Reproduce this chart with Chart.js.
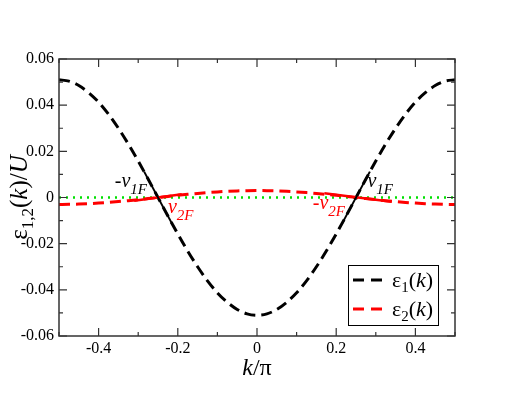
<!DOCTYPE html>
<html lang="en">
<head>
    <meta charset="UTF-8">
    <title>Band dispersion</title>
    <script src="https://cdn.jsdelivr.net/npm/chart.js"></script>
    <style>
        html, body { margin: 0; padding: 0; background: #fff; }
        #wrap { width: 512px; height: 396px; }
    </style>
</head>
<body>
    <div id="wrap"><canvas id="bandChart" width="512" height="396"></canvas></div>

    <script>
        // values
        const kValues = [-0.5, -0.475, -0.45, -0.425, -0.4, -0.375, -0.35, -0.325, -0.3, -0.275, -0.25,
                         -0.225, -0.2, -0.175, -0.15, -0.125, -0.1, -0.075, -0.05, -0.025, 0,
                         0.025, 0.05, 0.075, 0.1, 0.125, 0.15, 0.175, 0.2, 0.225, 0.25,
                         0.275, 0.3, 0.325, 0.35, 0.375, 0.4, 0.425, 0.45, 0.475, 0.5];
        const eps1 = [0.051, 0.0504, 0.0485, 0.0454, 0.0413, 0.0361, 0.0300, 0.0232, 0.0158, 0.0080, 0,
                      -0.0080, -0.0158, -0.0232, -0.0300, -0.0361, -0.0413, -0.0454, -0.0485, -0.0504, -0.051,
                      -0.0504, -0.0485, -0.0454, -0.0413, -0.0361, -0.0300, -0.0232, -0.0158, -0.0080, 0,
                      0.0080, 0.0158, 0.0232, 0.0300, 0.0361, 0.0413, 0.0454, 0.0485, 0.0504, 0.051];
        const eps2 = [-0.0030, -0.00296, -0.00285, -0.00267, -0.00243, -0.00212, -0.00176, -0.00136, -0.00093, -0.00047, 0,
                      0.00047, 0.00093, 0.00136, 0.00176, 0.00212, 0.00243, 0.00267, 0.00285, 0.00296, 0.0030,
                      0.00296, 0.00285, 0.00267, 0.00243, 0.00212, 0.00176, 0.00136, 0.00093, 0.00047, 0,
                      -0.00047, -0.00093, -0.00136, -0.00176, -0.00212, -0.00243, -0.00267, -0.00285, -0.00296, -0.0030];
        const zeroLineK = [-0.5, 0.5];
        const zeroLineE = [0, 0];

        // Fermi velocity segments (tangents at the Fermi points)
        const v1LeftK = [-0.285, -0.215];
        const v1LeftE = [0.0112, -0.0112];
        const v1RightK = [0.215, 0.285];
        const v1RightE = [-0.0112, 0.0112];
        const v2LeftK = [-0.31, -0.19];
        const v2LeftE = [-0.0014, 0.0014];
        const v2RightK = [0.17, 0.34];
        const v2RightE = [0.0018, -0.0018];

        const xTicks = [-0.4, -0.2, 0, 0.2, 0.4];
        const xTickLabels = ['-0.4', '-0.2', '0', '0.2', '0.4'];
        const yTicks = [-0.06, -0.04, -0.02, 0, 0.02, 0.04, 0.06];
        const yTickLabels = ['-0.06', '-0.04', '-0.02', '0', '0.02', '0.04', '0.06'];
        const xMinor = [-0.5, -0.3, -0.1, 0.1, 0.3, 0.5];
        const yMinor = [-0.05, -0.03, -0.01, 0.01, 0.03, 0.05];

        const seriesNames = ['1', '2'];
        const seriesColors = ['#000000', '#ff0000'];

        const pts = (xs, ys) => xs.map((x, i) => ({ x: x, y: ys[i] }));
        const SERIF = '"Liberation Serif", serif';

        // text labels near the Fermi points: [main, sub, k, e, colour]
        const notes = [
            ['-v', '1F', -0.359, 0.0045, '#000000'],
            ['v', '2F', -0.225, -0.0068, '#ff0000'],
            ['-v', '2F', 0.141, -0.0050, '#ff0000'],
            ['v', '1F', 0.279, 0.0045, '#000000']
        ];

        function drawPieces(ctx, pieces, x, y) {
            let cx = x;
            pieces.forEach(p => {
                ctx.font = p.font;
                ctx.fillText(p.t, cx, y + (p.dy || 0));
                cx += ctx.measureText(p.t).width;
            });
            return cx - x;
        }
        function piecesWidth(ctx, pieces) {
            let w = 0;
            pieces.forEach(p => { ctx.font = p.font; w += ctx.measureText(p.t).width; });
            return w;
        }

        const decor = {
            id: 'decor',
            afterDraw(chart) {
                const ctx = chart.ctx;
                const a = chart.chartArea;
                const xs = chart.scales.x, ys = chart.scales.y;
                ctx.save();

                // frame
                ctx.strokeStyle = '#333';
                ctx.lineWidth = 1.5;
                ctx.strokeRect(a.left, a.top, a.right - a.left, a.bottom - a.top);

                // inward ticks on all four sides
                ctx.lineWidth = 1.2;
                ctx.beginPath();
                const xt = (v, len) => {
                    const p = xs.getPixelForValue(v);
                    ctx.moveTo(p, a.bottom); ctx.lineTo(p, a.bottom - len);
                    ctx.moveTo(p, a.top); ctx.lineTo(p, a.top + len);
                };
                const yt = (v, len) => {
                    const p = ys.getPixelForValue(v);
                    ctx.moveTo(a.left, p); ctx.lineTo(a.left + len, p);
                    ctx.moveTo(a.right, p); ctx.lineTo(a.right - len, p);
                };
                xTicks.forEach(v => xt(v, 8));
                xMinor.forEach(v => xt(v, 4));
                yTicks.forEach(v => yt(v, 8));
                yMinor.forEach(v => yt(v, 4));
                ctx.stroke();

                // annotations
                ctx.textBaseline = 'alphabetic';
                ctx.textAlign = 'left';
                notes.forEach(n => {
                    ctx.fillStyle = n[4];
                    drawPieces(ctx, [
                        { t: n[0], font: 'italic 20px ' + SERIF },
                        { t: n[1], font: 'italic 15px ' + SERIF, dy: 7 }
                    ], xs.getPixelForValue(n[2]), ys.getPixelForValue(n[3]));
                });

                // axis titles
                ctx.fillStyle = '#000';
                const xTitle = [
                    { t: 'k', font: 'italic 24px ' + SERIF },
                    { t: '/\u03c0', font: '24px ' + SERIF }
                ];
                const xw = piecesWidth(ctx, xTitle);
                drawPieces(ctx, xTitle, (a.left + a.right) / 2 - xw / 2, 375);

                const yTitle = [
                    { t: '\u03b5', font: '25px ' + SERIF },
                    { t: '1,2', font: '17px ' + SERIF, dy: 6 },
                    { t: '(', font: '25px ' + SERIF },
                    { t: 'k', font: 'italic 25px ' + SERIF },
                    { t: ')/', font: '25px ' + SERIF },
                    { t: 'U', font: 'italic 25px ' + SERIF }
                ];
                const yw = piecesWidth(ctx, yTitle);
                ctx.save();
                ctx.translate(27, (a.top + a.bottom) / 2);
                ctx.rotate(-Math.PI / 2);
                drawPieces(ctx, yTitle, -yw / 2, 0);
                ctx.restore();

                // legend box
                const bx = 348, by = 265, bw = 90, bh = 60;
                ctx.fillStyle = '#fff';
                ctx.fillRect(bx, by, bw, bh);
                ctx.strokeStyle = '#000';
                ctx.lineWidth = 1;
                ctx.strokeRect(bx + 0.5, by + 0.5, bw, bh);
                seriesNames.forEach((name, i) => {
                    const ly = by + 15 + i * 29;
                    ctx.strokeStyle = seriesColors[i];
                    ctx.lineWidth = 3;
                    ctx.setLineDash([11, 7]);
                    ctx.beginPath();
                    ctx.moveTo(bx + 5, ly); ctx.lineTo(bx + 37, ly);
                    ctx.stroke();
                    ctx.setLineDash([]);
                    ctx.fillStyle = '#000';
                    drawPieces(ctx, [
                        { t: '\u03b5', font: '22px ' + SERIF },
                        { t: name, font: '15px ' + SERIF, dy: 5 },
                        { t: '(', font: '22px ' + SERIF },
                        { t: 'k', font: 'italic 22px ' + SERIF },
                        { t: ')', font: '22px ' + SERIF }
                    ], bx + 44, ly + 7);
                });

                ctx.restore();
            }
        };

        new Chart(document.getElementById('bandChart'), {
            type: 'scatter',
            data: {
                datasets: [
                    { data: pts(v1LeftK, v1LeftE), showLine: true, borderColor: '#000', borderWidth: 2, pointRadius: 0 },
                    { data: pts(v1RightK, v1RightE), showLine: true, borderColor: '#000', borderWidth: 2, pointRadius: 0 },
                    { data: pts(v2LeftK, v2LeftE), showLine: true, borderColor: '#ff0000', borderWidth: 2.5, pointRadius: 0 },
                    { data: pts(v2RightK, v2RightE), showLine: true, borderColor: '#ff0000', borderWidth: 2.5, pointRadius: 0 },
                    { data: pts(kValues, eps1), showLine: true, borderColor: '#000', borderWidth: 3,
                      borderDash: [11, 6], pointRadius: 0, cubicInterpolationMode: 'monotone' },
                    { data: pts(kValues, eps2), showLine: true, borderColor: '#ff0000', borderWidth: 3,
                      borderDash: [11, 6], pointRadius: 0, cubicInterpolationMode: 'monotone' },
                    { data: pts(zeroLineK, zeroLineE), showLine: true, borderColor: '#00e000', borderWidth: 2.5,
                      borderDash: [2, 5], pointRadius: 0 }
                ]
            },
            options: {
                responsive: false,
                animation: false,
                layout: { padding: { left: 0, top: 59, right: 57, bottom: 0 } },
                plugins: { legend: { display: false }, tooltip: { enabled: false } },
                scales: {
                    x: {
                        type: 'linear', min: -0.5, max: 0.5,
                        grid: { display: false, drawTicks: false }, border: { display: false },
                        afterBuildTicks: s => { s.ticks = xTicks.map(v => ({ value: v })); },
                        afterFit: s => { s.height = 60; },
                        ticks: {
                            padding: 3, color: '#000', font: { family: SERIF, size: 16 },
                            maxRotation: 0,
                            callback: v => xTickLabels[xTicks.findIndex(t => Math.abs(t - v) < 1e-9)]
                        }
                    },
                    y: {
                        type: 'linear', min: -0.06, max: 0.06,
                        grid: { display: false, drawTicks: false }, border: { display: false },
                        afterBuildTicks: s => { s.ticks = yTicks.map(v => ({ value: v })); },
                        afterFit: s => { s.width = 59; },
                        ticks: {
                            padding: 5, color: '#000', font: { family: SERIF, size: 16 },
                            callback: v => yTickLabels[yTicks.findIndex(t => Math.abs(t - v) < 1e-9)]
                        }
                    }
                }
            },
            plugins: [decor]
        });
    </script>
</body>
</html>
